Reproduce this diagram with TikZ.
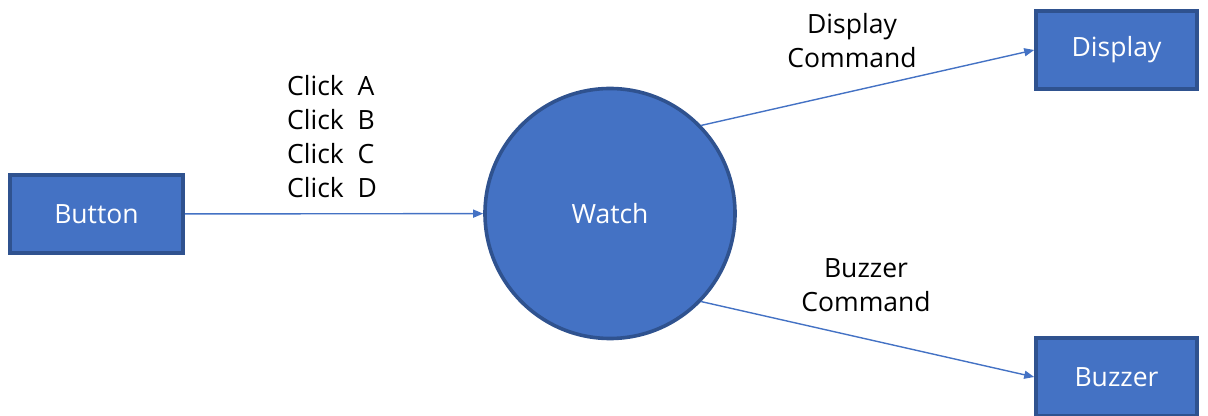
\documentclass[tikz,border=0pt]{standalone}
\usepackage{fontspec}
\setmainfont{Open Sans}
\usepackage{tikz}
\usetikzlibrary{arrows.meta, positioning, shapes}
\definecolor{boxblue}{HTML}{4472C4}
\definecolor{edgeblue}{HTML}{2F528F}

\begin{document}
\begin{tikzpicture}[x=0.5pt, y=-0.5pt,
  every node/.style={font=\fontsize{13.25}{17}\selectfont},
  ent/.style={draw=edgeblue, line width=1.8pt, fill=boxblue, text=white, minimum width=86.5pt, minimum height=39pt},
  proc/.style={draw=edgeblue, line width=1.8pt, fill=boxblue, text=white, circle, minimum size=125pt},
  flow/.style={draw=boxblue, line width=0.7pt, -{Triangle[length=5pt, width=4pt]}},
  lbl/.style={inner sep=0pt, align=center}]
\useasboundingbox (0,0) rectangle (1208,416);

\node[ent] (btn) at (96.5,214) {Button};
\node[proc] (watch) at (610,213.5) {Watch};
\node[ent, minimum width=80.5pt] (disp) at (1116.5,50) {Display};
\node[ent, minimum width=80.5pt] (buzz) at (1116.5,377) {Buzzer};

\node[lbl, align=left] (clk) at (332,137) {Click\ \ A\\Click\ \ B\\Click\ \ C\\Click\ \ D};
\node[lbl] (dcmd) at (852,41) {Display\\Command};
\node[lbl] (bcmd) at (866,285) {Buzzer\\Command};

\draw[flow] (btn) -- (watch);
\draw[flow] (watch.44) -- (disp.west);
\draw[flow] (watch.-44) -- (buzz.west);
\end{tikzpicture}
\end{document}
